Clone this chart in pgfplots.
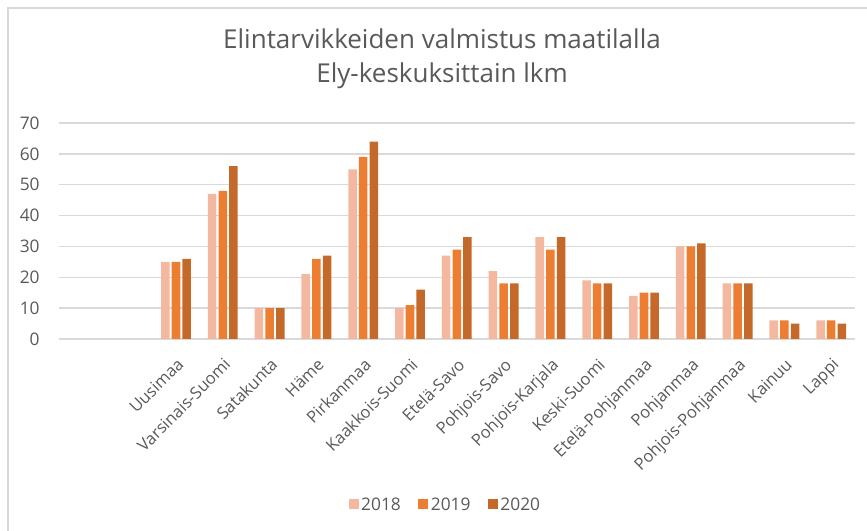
\documentclass[border=0pt]{standalone}
\usepackage{pgfplots}
\pgfplotsset{compat=1.18}
\usepackage{fontspec}
\setmainfont{Open Sans}
\definecolor{txt}{HTML}{595959}
\definecolor{gridc}{HTML}{D9D9D9}
\definecolor{cA}{HTML}{F4B8A0}
\definecolor{cB}{HTML}{ED7D31}
\definecolor{cC}{HTML}{C5692B}
\begin{document}
\begin{tikzpicture}
\begin{scope}[x=0.75pt,y=-0.75pt,yshift=398.25pt]
\draw[gridc,line width=1.1pt] (8,531) -- (8,8) -- (867,8);
\node[anchor=base,text=txt,inner sep=0pt,font=\fontsize{19.5}{22}\selectfont] at (442,49) {Elintarvikkeiden valmistus maatilalla};
\node[anchor=base,text=txt,inner sep=0pt,font=\fontsize{19.5}{22}\selectfont] at (442,83) {Ely-keskuksittain lkm};
\end{scope}
\begin{axis}[
  at={(44.25pt,144pt)}, anchor=south west,
  scale only axis, width=596.7pt, height=162pt,
  xmin=-0.5, xmax=16.5, ymin=0, ymax=70,
  ytick={0,10,...,70},
  xtick={2,...,16},
  xticklabels={Uusimaa,Varsinais-Suomi,Satakunta,Häme,Pirkanmaa,Kaakkois-Suomi,Etelä-Savo,Pohjois-Savo,Pohjois-Karjala,Keski-Suomi,Etelä-Pohjanmaa,Pohjanmaa,Pohjois-Pohjanmaa,Kainuu,Lappi},
  major tick length=0pt,
  axis line style={draw=none},
  ymajorgrids, grid style={gridc,line width=1.1pt},
  /pgf/number format/assume math mode=true,
  ticklabel style={text=txt,font=\fontsize{13}{15}\selectfont},
  yticklabel style={anchor=east,xshift=-11pt},
  xticklabel style={rotate=45,anchor=north east,inner sep=0pt,xshift=-9.5pt,yshift=-9.5pt,font=\fontsize{12.4}{14}\selectfont},
  ybar=1.6pt, bar width=6.4pt,
  legend columns=3,
  legend style={at={(0.486,-0.769)},anchor=center,draw=none,fill=none,
    font=\fontsize{13}{15}\selectfont,text=txt,
    /tikz/every even column/.append style={column sep=11pt}},
  legend image code/.code={\fill[#1,draw=none] (0pt,-3.2pt) rectangle (7.5pt,4.3pt);},
]
\addplot[fill=cA,draw=none] coordinates {(2,25)(3,47)(4,10)(5,21)(6,55)(7,10)(8,27)(9,22)(10,33)(11,19)(12,14)(13,30)(14,18)(15,6)(16,6)};
\addplot[fill=cB,draw=none] coordinates {(2,25)(3,48)(4,10)(5,26)(6,59)(7,11)(8,29)(9,18)(10,29)(11,18)(12,15)(13,30)(14,18)(15,6)(16,6)};
\addplot[fill=cC,draw=none] coordinates {(2,26)(3,56)(4,10)(5,27)(6,64)(7,16)(8,33)(9,18)(10,33)(11,18)(12,15)(13,31)(14,18)(15,5)(16,5)};
\legend{2018,2019,2020}
\end{axis}
\pgfresetboundingbox
\useasboundingbox (0,0) rectangle (650.25pt,398.25pt);
\end{tikzpicture}
\end{document}
